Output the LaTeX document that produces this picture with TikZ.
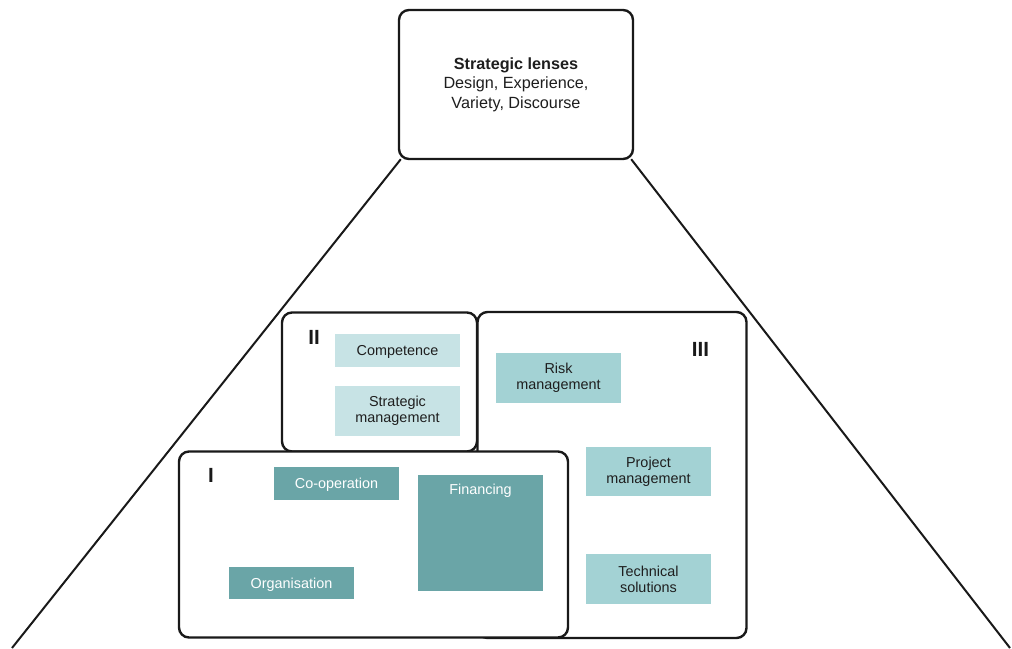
\documentclass[tikz,border=0pt]{standalone}
\usepackage{fontspec}
\setmainfont{Liberation Sans}
\definecolor{tealdark}{HTML}{6AA5A7}
\definecolor{tealmid}{HTML}{A3D2D4}
\definecolor{teallight}{HTML}{C7E3E5}
\definecolor{inktext}{HTML}{1E1E1E}
\begin{document}
\begin{tikzpicture}[x=1pt,y=-1pt,
  frame/.style={draw=black!90,line width=2.4pt,rounded corners=10pt,fill=white},
  itembox/.style={inner sep=0pt,minimum width=125pt,align=center,
    font=\fontsize{14.4}{16}\selectfont},
  oneline/.style={text height=12.5pt,text depth=2pt},
  darkitem/.style={itembox,fill=tealdark,text=white},
  miditem/.style={itembox,fill=tealmid,text=inktext},
  lightitem/.style={itembox,fill=teallight,text=inktext},
  numeral/.style={font=\fontsize{20.5}{21}\selectfont\bfseries,text=black!90,inner sep=0pt},
  ray/.style={draw=black!90,line width=2pt}]
\useasboundingbox (0,0) rectangle (1012,648);

% strategic lenses at the apex
\node[frame,minimum width=234pt,minimum height=149pt,inner sep=0pt,align=center,
  font=\fontsize{16.2}{19.5}\selectfont,text=inktext] (lens) at (516,84.5)
  {\textbf{Strategic lenses}\\Design, Experience,\\Variety, Discourse};

% rays opening downward from the lens box
\coordinate (leftend) at (12,648);
\coordinate (rightend) at (1010,648);
\draw[ray] ([xshift=3pt,yshift=1pt]lens.south west) -- (leftend);
\draw[ray] ([xshift=-3pt,yshift=1pt]lens.south east) -- (rightend);

% group frames
\node[frame,minimum width=269pt,minimum height=326pt,inner sep=0pt] (g3) at (612,475) {};
\node[frame,minimum width=195pt,minimum height=139pt,inner sep=0pt] (g2) at (379.5,382) {};
\node[frame,minimum width=389pt,minimum height=186pt,inner sep=0pt] (g1) at (373.5,544.5) {};

% group numerals
\node[numeral] (n2) at (314,337) {II};
\node[numeral] (n3) at (700.5,349.5) {III};
\node[numeral] (n1) at (211,475.5) {I};

% group II items
\node[lightitem,oneline,minimum height=33pt] (comp) at (397.5,350.5) {Competence};
\node[lightitem,minimum height=50pt] (strat) at (397.5,411) {Strategic\\management};

% group III items
\node[miditem,minimum height=50pt] (risk) at (558.5,378) {Risk\\management};
\node[miditem,minimum height=49pt] (proj) at (648.5,471.5) {Project\\management};
\node[miditem,minimum height=50pt] (tech) at (648.5,579) {Technical\\solutions};

% group I items
\node[darkitem,oneline,minimum height=33pt] (coop) at (336.5,483.5) {Co-operation};
\node[darkitem,oneline,minimum height=32pt] (org) at (291.5,583) {Organisation};
\node[darkitem,minimum height=116pt,
  label={[anchor=north,yshift=-9pt,text=white,font=\fontsize{14.4}{16}\selectfont,inner sep=0pt]north:Financing}]
  (fin) at (480.5,533) {};
\end{tikzpicture}
\end{document}
